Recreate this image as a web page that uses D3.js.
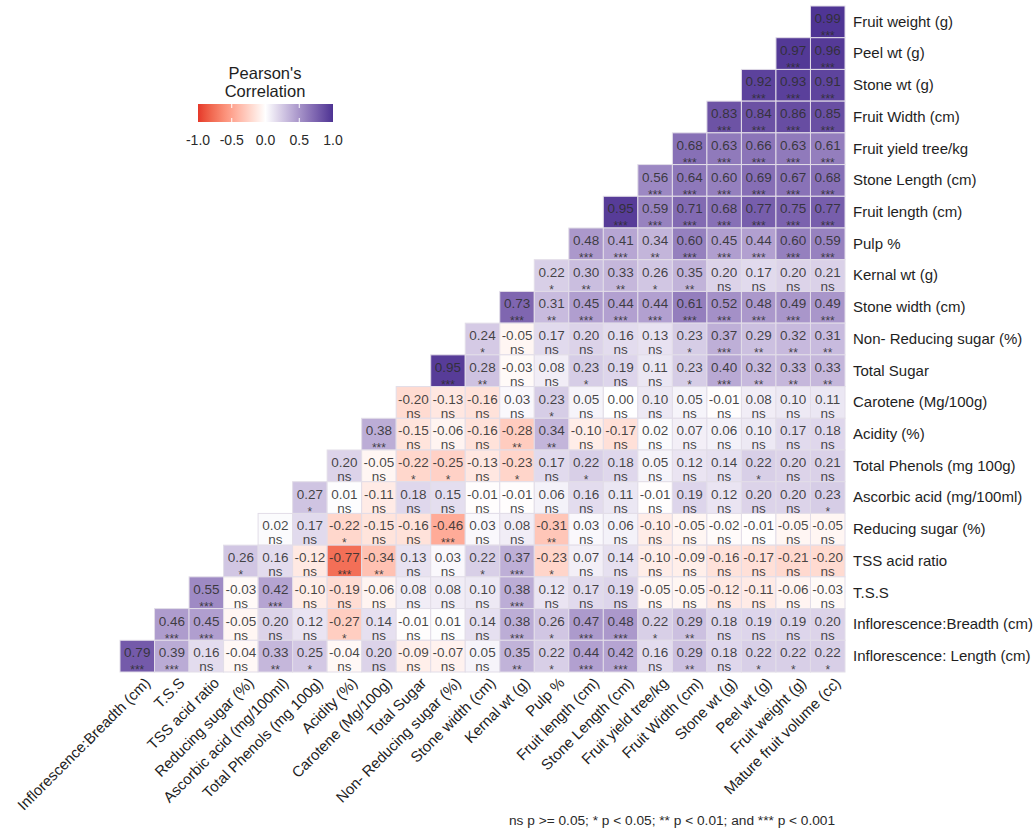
<!DOCTYPE html>
<html>
<head>
<meta charset="utf-8">
<script src="https://cdn.jsdelivr.net/npm/d3@7"></script>
<style>
  html, body { margin: 0; padding: 0; background: #fff; }
  svg { display: block; font-family: "Liberation Sans", Arial, sans-serif; }
</style>
</head>
<body>
<svg id="chart" width="1034" height="832"></svg>
<script>
// Variables along the bottom (columns), left to right
const columnLabels = [
  "Inflorescence:Breadth (cm)", "T.S.S", "TSS acid ratio", "Reducing sugar (%)",
  "Ascorbic acid (mg/100ml)", "Total Phenols (mg 100g)", "Acidity (%)",
  "Carotene (Mg/100g)", "Total Sugar", "Non- Reducing sugar (%)", "Stone width (cm)",
  "Kernal wt (g)", "Pulp %", "Fruit length (cm)", "Stone Length (cm)",
  "Fruit yield tree/kg", "Fruit Width (cm)", "Stone wt (g)", "Peel wt (g)",
  "Fruit weight (g)", "Mature fruit volume (cc)"
];

// Variables down the right side (rows), top to bottom
const rowLabels = [
  "Fruit weight (g)", "Peel wt (g)", "Stone wt (g)", "Fruit Width (cm)",
  "Fruit yield tree/kg", "Stone Length (cm)", "Fruit length (cm)", "Pulp %",
  "Kernal wt (g)", "Stone width (cm)", "Non- Reducing sugar (%)", "Total Sugar",
  "Carotene (Mg/100g)", "Acidity (%)", "Total Phenols (mg 100g)",
  "Ascorbic acid (mg/100ml)", "Reducing sugar (%)", "TSS acid ratio", "T.S.S",
  "Inflorescence:Breadth (cm)", "Inflorescence: Length (cm)"
];

// Pearson r per row; each row runs from its first filled column to the last column
const corrValues = [
  [0.99],
  [0.97, 0.96],
  [0.92, 0.93, 0.91],
  [0.83, 0.84, 0.86, 0.85],
  [0.68, 0.63, 0.66, 0.63, 0.61],
  [0.56, 0.64, 0.60, 0.69, 0.67, 0.68],
  [0.95, 0.59, 0.71, 0.68, 0.77, 0.75, 0.77],
  [0.48, 0.41, 0.34, 0.60, 0.45, 0.44, 0.60, 0.59],
  [0.22, 0.30, 0.33, 0.26, 0.35, 0.20, 0.17, 0.20, 0.21],
  [0.73, 0.31, 0.45, 0.44, 0.44, 0.61, 0.52, 0.48, 0.49, 0.49],
  [0.24, -0.05, 0.17, 0.20, 0.16, 0.13, 0.23, 0.37, 0.29, 0.32, 0.31],
  [0.95, 0.28, -0.03, 0.08, 0.23, 0.19, 0.11, 0.23, 0.40, 0.32, 0.33, 0.33],
  [-0.20, -0.13, -0.16, 0.03, 0.23, 0.05, 0.00, 0.10, 0.05, -0.01, 0.08, 0.10, 0.11],
  [0.38, -0.15, -0.06, -0.16, -0.28, 0.34, -0.10, -0.17, 0.02, 0.07, 0.06, 0.10, 0.17, 0.18],
  [0.20, -0.05, -0.22, -0.25, -0.13, -0.23, 0.17, 0.22, 0.18, 0.05, 0.12, 0.14, 0.22, 0.20, 0.21],
  [0.27, 0.01, -0.11, 0.18, 0.15, -0.01, -0.01, 0.06, 0.16, 0.11, -0.01, 0.19, 0.12, 0.20, 0.20, 0.23],
  [0.02, 0.17, -0.22, -0.15, -0.16, -0.46, 0.03, 0.08, -0.31, 0.03, 0.06, -0.10, -0.05, -0.02, -0.01, -0.05, -0.05],
  [0.26, 0.16, -0.12, -0.77, -0.34, 0.13, 0.03, 0.22, 0.37, -0.23, 0.07, 0.14, -0.10, -0.09, -0.16, -0.17, -0.21, -0.20],
  [0.55, -0.03, 0.42, -0.10, -0.19, -0.06, 0.08, 0.08, 0.10, 0.38, 0.12, 0.17, 0.19, -0.05, -0.05, -0.12, -0.11, -0.06, -0.03],
  [0.46, 0.45, -0.05, 0.20, 0.12, -0.27, 0.14, -0.01, 0.01, 0.14, 0.38, 0.26, 0.47, 0.48, 0.22, 0.29, 0.18, 0.19, 0.19, 0.20],
  [0.79, 0.39, 0.16, -0.04, 0.33, 0.25, -0.04, 0.20, -0.09, -0.07, 0.05, 0.35, 0.22, 0.44, 0.42, 0.16, 0.29, 0.18, 0.22, 0.22, 0.22]
];

// Significance code for each cell, same layout as corrValues
const sigLevels = [
  "***",
  "*** ***",
  "*** *** ***",
  "*** *** *** ***",
  "*** *** *** *** ***",
  "*** *** *** *** *** ***",
  "*** *** *** *** *** *** ***",
  "*** *** ** *** *** *** *** ***",
  "* ** ** * ** ns ns ns ns",
  "*** ** *** *** *** *** *** *** *** ***",
  "* ns ns ns ns ns * *** ** ** **",
  "*** ** ns ns * ns ns * *** ** ** **",
  "ns ns ns ns * ns ns ns ns ns ns ns ns",
  "*** ns ns ns ** ** ns ns ns ns ns ns ns ns",
  "ns ns * * ns * ns * ns ns ns ns * ns ns",
  "* ns ns ns ns ns ns ns ns ns ns ns ns ns ns *",
  "ns ns * ns ns *** ns ns ** ns ns ns ns ns ns ns ns",
  "* ns ns *** ** ns ns * *** * ns ns ns ns ns ns ns ns",
  "*** ns *** ns ns ns ns ns ns *** ns ns ns ns ns ns ns ns ns",
  "*** *** ns ns ns * ns ns ns ns *** * *** *** * ** ns ns ns ns",
  "*** *** ns ns ** * ns ns ns ns ns ** * *** *** ns ** ns * * *"
].map(s => s.split(" "));

const legendTicks = [-1.0, -0.5, 0.0, 0.5, 1.0];
const footnoteText = "ns p >= 0.05; * p < 0.05; ** p < 0.01; and *** p < 0.001";

// Plain hyphen-minus number formatting
const fmt = digits => v => (v < 0 ? "-" : "") + Math.abs(v).toFixed(digits);

// Flatten to one record per cell
const cells = [];
corrValues.forEach((row, r) => {
  const start = columnLabels.length - row.length;
  row.forEach((v, i) => {
    cells.push({ row: rowLabels[r], col: columnLabels[start + i], r: v, sig: sigLevels[r][i] });
  });
});

const svg = d3.select("#chart");

const x = d3.scaleBand().domain(columnLabels).range([120, 845]).padding(0);
const y = d3.scaleBand().domain(rowLabels).range([6, 672]).padding(0);

const color = d3.scaleLinear()
  .domain([-1, 0, 1])
  .range(["#e5382a", "#ffffff", "#4d3393"])
  .interpolate(d3.interpolateLab);

// Tiles
svg.append("g").selectAll("rect")
  .data(cells)
  .join("rect")
  .attr("x", d => x(d.col))
  .attr("y", d => y(d.row))
  .attr("width", x.bandwidth())
  .attr("height", y.bandwidth())
  .attr("fill", d => color(d.r))
  .attr("stroke", "#e2dde8")
  .attr("stroke-width", 1);

// Coefficient and significance labels
const lab = svg.append("g")
  .attr("fill", "#2e2e2e")
  .attr("fill-opacity", 0.88)
  .attr("text-anchor", "middle")
  .attr("font-size", "13.5px");

lab.selectAll("text.val")
  .data(cells)
  .join("text")
  .attr("class", "val")
  .attr("x", d => x(d.col) + x.bandwidth() / 2)
  .attr("y", d => y(d.row) + 17)
  .text(d => fmt(2)(d.r));

lab.selectAll("text.sig")
  .data(cells)
  .join("text")
  .attr("class", "sig")
  .attr("x", d => x(d.col) + x.bandwidth() / 2)
  .attr("y", d => y(d.row) + (d.sig === "ns" ? 31 : 34))
  .attr("font-size", d => d.sig === "ns" ? "13.5px" : "12px")
  .text(d => d.sig);

// Right-hand axis (row variables)
const yAxis = svg.append("g")
  .attr("transform", "translate(845,0)")
  .call(d3.axisRight(y).tickSize(0).tickPadding(8));
yAxis.select(".domain").remove();
yAxis.selectAll("text")
  .attr("font-size", "15px")
  .attr("font-family", "Liberation Sans, Arial, sans-serif")
  .attr("fill", "#1e1e1e");

// Bottom axis (column variables), labels slanted at 45 degrees
const xAxis = svg.append("g")
  .attr("transform", "translate(0,672)")
  .call(d3.axisBottom(x).tickSize(0).tickPadding(0));
xAxis.select(".domain").remove();
xAxis.selectAll("text")
  .attr("font-size", "15px")
  .attr("font-family", "Liberation Sans, Arial, sans-serif")
  .attr("fill", "#1e1e1e")
  .attr("text-anchor", "end")
  .attr("dy", null)
  .attr("y", 0)
  .attr("transform", "translate(6,4) rotate(-45)")
  .attr("dominant-baseline", "hanging");

// Colour legend
const legX = d3.scaleLinear().domain([-1, 1]).range([198, 333]);
const defs = svg.append("defs");
const grad = defs.append("linearGradient").attr("id", "corrGrad");
d3.range(0, 1.0001, 0.05).forEach(t => {
  grad.append("stop")
    .attr("offset", (t * 100) + "%")
    .attr("stop-color", color(-1 + 2 * t));
});
const leg = svg.append("g");
leg.append("rect")
  .attr("x", legX(-1)).attr("y", 104)
  .attr("width", legX(1) - legX(-1)).attr("height", 18)
  .attr("fill", "url(#corrGrad)");
legendTicks.slice(1, -1).forEach(t => {
  leg.append("line").attr("x1", legX(t)).attr("x2", legX(t)).attr("y1", 104).attr("y2", 108)
    .attr("stroke", "#fff").attr("stroke-width", 1);
  leg.append("line").attr("x1", legX(t)).attr("x2", legX(t)).attr("y1", 118).attr("y2", 122)
    .attr("stroke", "#fff").attr("stroke-width", 1);
});
leg.selectAll("text.tick")
  .data(legendTicks)
  .join("text")
  .attr("class", "tick")
  .attr("x", d => legX(d))
  .attr("y", 145)
  .attr("text-anchor", "middle")
  .attr("font-size", "14px")
  .attr("fill", "#2a2a2a")
  .text(d => fmt(1)(d));
leg.append("text")
  .attr("x", 265).attr("y", 79)
  .attr("text-anchor", "middle")
  .attr("font-size", "16.5px")
  .attr("fill", "#1e1e1e")
  .selectAll("tspan")
  .data(["Pearson's", "Correlation"])
  .join("tspan")
  .attr("x", 265)
  .attr("dy", (d, i) => i === 0 ? 0 : 18)
  .text(d => d);

// Significance footnote
svg.append("text")
  .attr("x", 509).attr("y", 825)
  .attr("font-size", "13.7px")
  .attr("fill", "#2a2a2a")
  .text(footnoteText);
</script>
</body>
</html>
